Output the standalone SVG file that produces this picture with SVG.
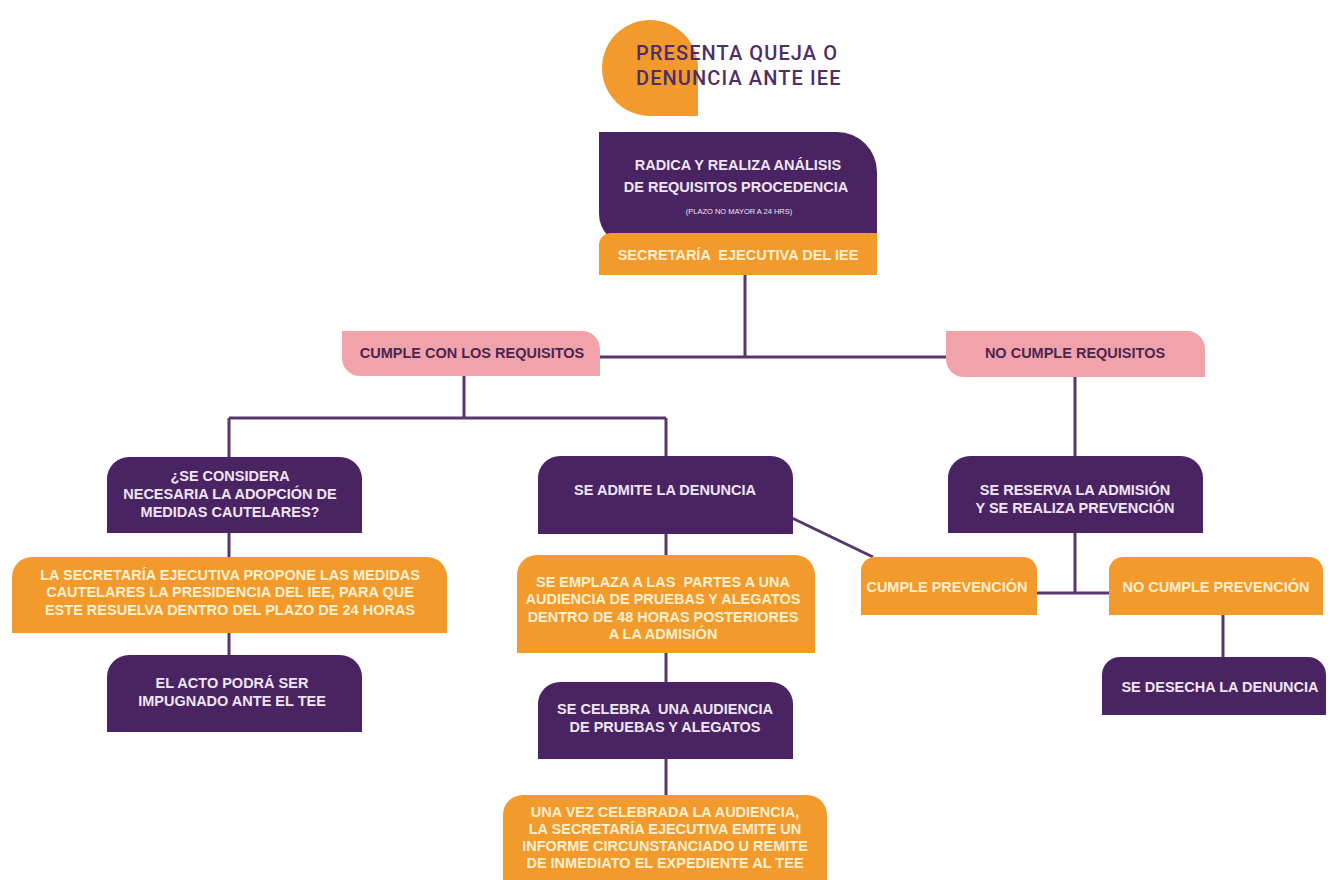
<svg xmlns="http://www.w3.org/2000/svg" width="1330" height="880" viewBox="0 0 1330 880">
<style>
.pu{fill:#4a2363}
.or{fill:#f39a2c}
.pk{fill:#f2a3aa}
.t{font-family:"Liberation Sans",Arial,sans-serif;font-weight:bold;font-size:14.5px;text-anchor:middle;white-space:pre}
.tl{fill:#efe6f4}
.tc{fill:#fdf0cf}
.tp{fill:#4a2550}
.ln{stroke:#57366e;stroke-width:3;fill:none}
.ti{font-family:"Roboto","Liberation Sans",Arial,sans-serif;font-weight:500;font-size:20px;letter-spacing:1.1px;fill:#4f2d66}
</style>
<rect width="1330" height="880" fill="#ffffff"/>
<g id="connectors">
<path class="ln" d="M745,275 V357 M600,357 H946 M464,376 V418 M229,418 H666 M229,418 V457 M666,418 V456 M229,533 V557 M229,633 V655 M666,534 V555 M666,653 V682 M666,759 V795 M1075,377 V456 M1075,533 V593 M1037,593 H1109 M1223,615 V657 M792,518 L873,557"/>
</g>
<g id="start">
<path class="or" d="M650,20 A48,48 0 0 0 602,68 A48,48 0 0 0 650,116 H698 V68 A48,48 0 0 0 650,20 Z"/>
<text class="ti" x="636" y="60">PRESENTA QUEJA O</text>
<text class="ti" x="636" y="85">DENUNCIA ANTE IEE</text>
</g>
<g id="radica">
<path class="pu" d="M599,132 H837 A40,40 0 0 1 877,172 V245 H630 A31,31 0 0 1 599,214 Z"/>
<path class="or" d="M599,275 V245 A12,12 0 0 1 611,233 H877 V275 Z"/>
<text class="t tl" x="738" y="170">RADICA Y REALIZA ANÁLISIS</text>
<text class="t tl" x="736" y="192">DE REQUISITOS PROCEDENCIA</text>
<text class="tl" x="739" y="214" font-family="Liberation Sans,Arial,sans-serif" font-size="7.5" text-anchor="middle">(PLAZO NO MAYOR A 24 HRS)</text>
<text class="t tc" x="738" y="260">SECRETARÍA  EJECUTIVA DEL IEE</text>
</g>
<g id="cumple">
<path class="pk" d="M342,331 H582 A18,18 0 0 1 600,349 V376 H360 A18,18 0 0 1 342,358 Z"/>
<text class="t tp" x="472" y="358">CUMPLE CON LOS REQUISITOS</text>
</g>
<g id="nocumple">
<path class="pk" d="M946,331 H1187 A18,18 0 0 1 1205,349 V377 H964 A18,18 0 0 1 946,359 Z"/>
<text class="t tp" x="1075" y="358">NO CUMPLE REQUISITOS</text>
</g>
<g id="considera">
<path class="pu" d="M107,533 V479 A22,22 0 0 1 129,457 H340 A22,22 0 0 1 362,479 V533 Z"/>
<text class="t tl" x="230" y="481">¿SE CONSIDERA</text>
<text class="t tl" x="230" y="499">NECESARIA LA ADOPCIÓN DE</text>
<text class="t tl" x="230" y="517">MEDIDAS CAUTELARES?</text>
</g>
<g id="propone">
<path class="or" d="M12,633 V577 A20,20 0 0 1 32,557 H427 A20,20 0 0 1 447,577 V633 Z"/>
<text class="t tc" x="230" y="580">LA SECRETARÍA EJECUTIVA PROPONE LAS MEDIDAS</text>
<text class="t tc" x="230" y="597">CAUTELARES LA PRESIDENCIA DEL IEE, PARA QUE</text>
<text class="t tc" x="230" y="615">ESTE RESUELVA DENTRO DEL PLAZO DE 24 HORAS</text>
</g>
<g id="acto">
<path class="pu" d="M107,732 V677 A22,22 0 0 1 129,655 H340 A22,22 0 0 1 362,677 V732 Z"/>
<text class="t tl" x="232" y="688">EL ACTO PODRÁ SER</text>
<text class="t tl" x="232" y="706">IMPUGNADO ANTE EL TEE</text>
</g>
<g id="admite">
<path class="pu" d="M538,534 V478 A22,22 0 0 1 560,456 H771 A22,22 0 0 1 793,478 V534 Z"/>
<text class="t tl" x="665" y="495">SE ADMITE LA DENUNCIA</text>
</g>
<g id="emplaza">
<path class="or" d="M517,653 V575 A20,20 0 0 1 537,555 H795 A20,20 0 0 1 815,575 V653 Z"/>
<text class="t tc" x="663" y="587">SE EMPLAZA A LAS  PARTES A UNA</text>
<text class="t tc" x="663" y="604">AUDIENCIA DE PRUEBAS Y ALEGATOS</text>
<text class="t tc" x="663" y="622">DENTRO DE 48 HORAS POSTERIORES</text>
<text class="t tc" x="663" y="639">A LA ADMISIÓN</text>
</g>
<g id="celebra">
<path class="pu" d="M538,759 V704 A22,22 0 0 1 560,682 H771 A22,22 0 0 1 793,704 V759 Z"/>
<text class="t tl" x="665" y="714">SE CELEBRA  UNA AUDIENCIA</text>
<text class="t tl" x="665" y="732">DE PRUEBAS Y ALEGATOS</text>
</g>
<g id="informe">
<path class="or" d="M503,885 V815 A20,20 0 0 1 523,795 H807 A20,20 0 0 1 827,815 V885 Z"/>
<text class="t tc" x="665" y="817">UNA VEZ CELEBRADA LA AUDIENCIA,</text>
<text class="t tc" x="665" y="834">LA SECRETARÍA EJECUTIVA EMITE UN</text>
<text class="t tc" x="665" y="851">INFORME CIRCUNSTANCIADO U REMITE</text>
<text class="t tc" x="665" y="868">DE INMEDIATO EL EXPEDIENTE AL TEE</text>
</g>
<g id="reserva">
<path class="pu" d="M948,533 V478 A22,22 0 0 1 970,456 H1181 A22,22 0 0 1 1203,478 V533 Z"/>
<text class="t tl" x="1075" y="495">SE RESERVA LA ADMISIÓN</text>
<text class="t tl" x="1075" y="513">Y SE REALIZA PREVENCIÓN</text>
</g>
<g id="cumpleprev">
<path class="or" d="M861,615 V571 A14,14 0 0 1 875,557 H1023 A14,14 0 0 1 1037,571 V615 Z"/>
<text class="t tc" x="947" y="592">CUMPLE PREVENCIÓN</text>
</g>
<g id="nocumpleprev">
<path class="or" d="M1109,615 V571 A14,14 0 0 1 1123,557 H1309 A14,14 0 0 1 1323,571 V615 Z"/>
<text class="t tc" x="1216" y="592">NO CUMPLE PREVENCIÓN</text>
</g>
<g id="desecha">
<path class="pu" d="M1102,715 V675 A18,18 0 0 1 1120,657 H1308 A18,18 0 0 1 1326,675 V715 Z"/>
<text class="t tl" x="1220" y="692">SE DESECHA LA DENUNCIA</text>
</g>
</svg>
